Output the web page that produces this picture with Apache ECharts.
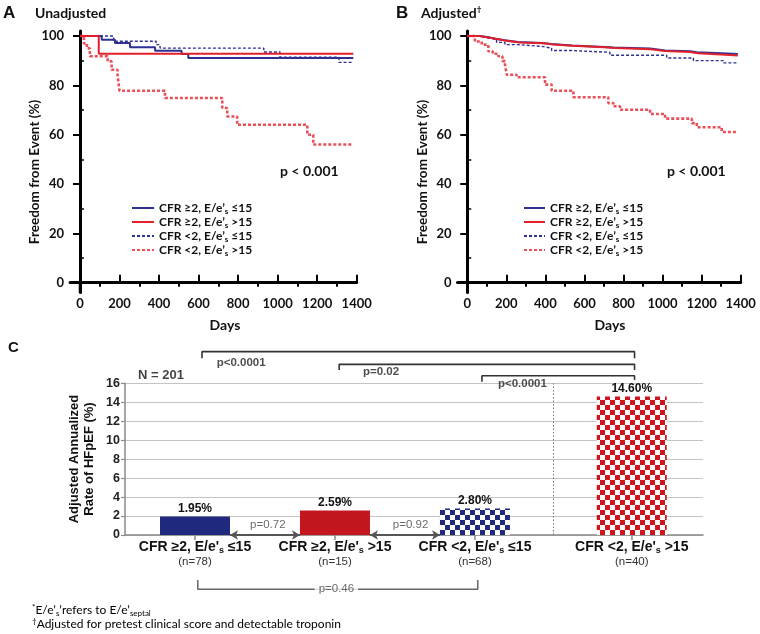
<!DOCTYPE html>
<html><head><meta charset="utf-8">
<script src="https://cdn.jsdelivr.net/npm/echarts@6/dist/echarts.min.js"></script>
<style>html,body{margin:0;padding:0;background:#fff}#c{width:760px;height:634px}</style>
</head><body><div id="c"></div>
<script>
// ---------------- DATA ----------------
const groupCFR = ['≥2', '≥2', '<2', '<2'];
const groupE = ['≤15', '>15', '≤15', '>15'];
const groupN = [78, 15, 68, 40];
const rateValues = [1.95, 2.59, 2.80, 14.60];

const dayTicks = [0, 200, 400, 600, 800, 1000, 1200, 1400];
const dayMinorTicks = [100, 300, 500, 700, 900, 1100, 1300];
const survTicks = [0, 20, 40, 60, 80, 100];
const survMinorTicks = [10, 30, 50, 70, 90];

// Panel A (unadjusted) Kaplan-Meier steps
const unadjG1Days = [0, 110, 177, 253, 380, 514, 548, 1383];
const unadjG1Surv = [100, 98.5, 97.2, 95.4, 94.0, 92.7, 91.1, 91.1];
const unadjG2Days = [0, 95, 1383];
const unadjG2Surv = [100, 92.8, 92.8];
const unadjG3Days = [0, 170, 385, 405, 930, 1012, 1310, 1383];
const unadjG3Surv = [100, 97.9, 96.5, 95.1, 93.5, 91.4, 89.3, 89.3];
const unadjG4Days = [0, 20, 35, 50, 140, 160, 190, 200, 430, 720, 745, 795, 1150, 1180, 1383];
const unadjG4Surv = [100, 97, 95, 91.8, 89.7, 86.3, 84.3, 77.8, 74.9, 70.8, 67.4, 64.0, 60.0, 56.0, 56.0];

// Panel B (adjusted)
const adjG1Days = [0, 65, 108, 150, 193, 260, 381, 432, 535, 705, 748, 936, 1013, 1141, 1175, 1303, 1385];
const adjG1Surv = [100, 99.5, 98.8, 98.3, 97.6, 97.2, 96.8, 96.2, 95.5, 95.3, 94.9, 94.1, 93.8, 93.4, 93.0, 92.7, 92.7];
const adjG2Days = [0, 60, 108, 160, 200, 270, 390, 440, 540, 700, 760, 940, 1010, 1140, 1180, 1300, 1385];
const adjG2Surv = [100, 99.4, 98.7, 98.1, 97.4, 97.1, 96.6, 96.0, 95.4, 95.1, 94.6, 93.9, 93.5, 93.0, 92.5, 92.1, 92.1];
const adjG3Days = [0, 60, 108, 150, 193, 261, 381, 432, 535, 730, 1021, 1158, 1311, 1385];
const adjG3Surv = [100, 99.2, 98.6, 97.4, 96.5, 95.8, 95.1, 94.1, 93.4, 92.2, 91.1, 90.0, 89.1, 89.1];
const adjG4Days = [0, 39, 74, 108, 130, 159, 180, 193, 202, 253, 398, 432, 543, 722, 748, 782, 936, 1013, 1150, 1175, 1303, 1385];
const adjG4Surv = [100, 97.8, 96.5, 93.8, 92.8, 91.8, 89.8, 88.4, 84.3, 83.3, 80.3, 77.8, 75.2, 72.8, 71.5, 70.1, 68.4, 66.5, 64.7, 63.0, 61.1, 61.1];

const pValueTexts = ['p<0.0001', 'p=0.02', 'p<0.0001', 'p=0.72', 'p=0.92', 'p=0.46'];

// ---------------- BUILD ----------------
const LATO = 'Lato';
const ARIAL = '"Liberation Sans", Arial';
const NAVY = '#2E3192', RED = '#E3202A', RED_L = '#E8505A';
const seriesNames = ['g1', 'g2', 'g3', 'g4'];
const lineStyles = [
  {color: NAVY, width: 2, type: 'solid'},
  {color: RED, width: 2, type: 'solid'},
  {color: NAVY, width: 1.4, type: [3, 2]},
  {color: RED_L, width: 2.6, type: [3, 2]}
];
const kmA = [[unadjG1Days, unadjG1Surv], [unadjG2Days, unadjG2Surv], [unadjG3Days, unadjG3Surv], [unadjG4Days, unadjG4Surv]];
const kmB = [[adjG1Days, adjG1Surv], [adjG2Days, adjG2Surv], [adjG3Days, adjG3Surv], [adjG4Days, adjG4Surv]];
const pair = (d, s) => d.map((x, i) => [x, s[i]]);

const catGap = 0.12;
const catPos = rateValues.map((v, i) => i + 0.5 + (i === 3 ? catGap : 0));

function checker(c) {
  const cv = document.createElement('canvas');
  cv.width = 10; cv.height = 10;
  const g = cv.getContext('2d');
  g.fillStyle = '#fff'; g.fillRect(0, 0, 10, 10);
  g.fillStyle = c; g.fillRect(0, 0, 5, 5); g.fillRect(5, 5, 5, 5);
  return {image: cv, repeat: 'repeat'};
}
const barFills = ['#1F2A7E', '#C3161F', checker('#1F2A7E'), checker('#D0141D')];

const legendRich = {
  a: {fontFamily: LATO, fontWeight: 'bold', fontSize: 12, color: '#111', lineHeight: 13.7},
  s: {fontFamily: LATO, fontWeight: 'bold', fontSize: 8, color: '#111', lineHeight: 8, padding: [6, 0, 0, 0]}
};
function legendFmt(name) {
  const i = seriesNames.indexOf(name);
  return `{a|CFR ${groupCFR[i]}, E/e’}{s|s}{a| ${groupE[i]}}`;
}

function kmAxes(gridIndex) {
  const x = [{
    type: 'value', gridIndex, min: -50, max: 1400,
    axisLine: {show: true, lineStyle: {color: '#000', width: 3}},
    axisTick: {show: true, inside: true, length: 8, lineStyle: {color: '#000', width: 2}, customValues: dayTicks},
    axisLabel: {show: true, customValues: dayTicks, formatter: v => String(v), fontFamily: LATO, fontWeight: 'bold', fontSize: 13, color: '#111', margin: 5},
    splitLine: {show: false}
  }, {
    type: 'value', gridIndex, min: -50, max: 1400,
    axisLine: {show: false},
    axisTick: {show: true, inside: true, length: 4, lineStyle: {color: '#000', width: 2}, customValues: dayMinorTicks},
    axisLabel: {show: false}, splitLine: {show: false}
  }];
  const y = [{
    type: 'value', gridIndex, min: -4, max: 102,
    axisLine: {show: true, lineStyle: {color: '#000', width: 3}},
    axisTick: {show: true, length: 7, lineStyle: {color: '#000', width: 2}, customValues: survTicks},
    axisLabel: {show: true, customValues: survTicks, formatter: v => String(v), fontFamily: LATO, fontWeight: 'bold', fontSize: 13, color: '#111', margin: 6},
    splitLine: {show: false}
  }, {
    type: 'value', gridIndex, min: -4, max: 102,
    axisLine: {show: false},
    axisTick: {show: true, length: 4, lineStyle: {color: '#000', width: 1.5}, customValues: survMinorTicks},
    axisLabel: {show: false}, splitLine: {show: false}
  }];
  return {x, y};
}
const axA = kmAxes(0), axB = kmAxes(1);

const xAxes = [axA.x[0], axB.x[0], {
  type: 'value', gridIndex: 2, min: 0, max: 4.129,
  axisLine: {show: true, lineStyle: {color: '#8a8a8a', width: 1.5}},
  axisTick: {show: true, length: 5, lineStyle: {color: '#8a8a8a', width: 1.5}, customValues: catPos},
  axisLabel: {
    show: true, customValues: catPos, margin: 4,
    formatter: v => {
      const i = catPos.findIndex(p => Math.abs(p - v) < 1e-6);
      if (i < 0) return '';
      return `{b|CFR ${groupCFR[i]}, E/e'}{s|s}{b| ${groupE[i]}}\n{n|(n=${groupN[i]})}`;
    },
    rich: {
      b: {fontFamily: ARIAL, fontWeight: 'bold', fontSize: 14, color: '#111', lineHeight: 16},
      s: {fontFamily: ARIAL, fontWeight: 'bold', fontSize: 9, color: '#111', lineHeight: 9, padding: [7, 0, 0, 0]},
      n: {fontFamily: ARIAL, fontSize: 11.5, color: '#333', lineHeight: 14}
    }
  },
  splitLine: {show: false}
}, axA.x[1], axB.x[1]];
// indices: 0 A-major, 1 B-major, 2 C, 3 A-minor, 4 B-minor
const yAxes = [axA.y[0], axB.y[0], {
  type: 'value', gridIndex: 2, min: 0, max: 16, interval: 2,
  axisLine: {show: true, lineStyle: {color: '#8a8a8a', width: 1.5}},
  axisTick: {show: true, length: 4, lineStyle: {color: '#8a8a8a', width: 1.2}},
  axisLabel: {fontFamily: ARIAL, fontWeight: 'bold', fontSize: 12.5, color: '#222', margin: 5},
  splitLine: {show: true, lineStyle: {color: '#c4c4c4', width: 1}}
}, axA.y[1], axB.y[1]];

const series = [];
const drawOrder = [2, 3, 0, 1];
[[kmA, 0], [kmB, 1]].forEach(([km, gi]) => {
  drawOrder.forEach(i => {
    series.push({
      type: 'line', name: seriesNames[i], xAxisIndex: gi, yAxisIndex: gi,
      data: pair(km[i][0], km[i][1]), step: 'end', symbol: 'none', showSymbol: false,
      lineStyle: lineStyles[i], itemStyle: {color: lineStyles[i].color}, z: 3
    });
  });
  // offset-zero bracket on the y axis
  series.push({
    type: 'line', xAxisIndex: gi, yAxisIndex: gi, data: [[-50, 0], [0, 0], [0, -4]],
    symbol: 'none', silent: true, lineStyle: {color: '#000', width: 2.5}, z: 4
  });
});

// Panel C bars
series.push({
  type: 'bar', xAxisIndex: 2, yAxisIndex: 2, barWidth: 70,
  data: rateValues.map((v, i) => ({value: [catPos[i], v], itemStyle: {color: barFills[i]}})),
  label: {show: true, position: 'top', distance: 2, fontFamily: ARIAL, fontWeight: 'bold', fontSize: 12, color: '#111',
    formatter: p => p.value[1].toFixed(2) + '%'},
  markLine: {
    silent: true, animation: false, symbol: ['arrow', 'arrow'], symbolSize: [7, 8],
    label: {show: false},
    lineStyle: {color: '#555', width: 2, type: 'solid'},
    data: [
      [{coord: [catPos[0] + 0.25, 0]}, {coord: [catPos[1] - 0.25, 0]}],
      [{coord: [catPos[1] + 0.25, 0]}, {coord: [catPos[2] - 0.25, 0]}],
      [{coord: [3.06, 0], symbol: 'none'}, {coord: [3.06, 16], symbol: 'none', lineStyle: {color: '#777', width: 1, type: [1.5, 2]}}]
    ]
  }
});
// brackets
const bracketStyle = {color: '#333', width: 1.6};
const bracketsTop = [
  [[catPos[0] + 0.05, 18.64], [catPos[0] + 0.05, 19.34], [catPos[3] + 0.02, 19.34], [catPos[3] + 0.02, 18.64]],
  [[catPos[1] + 0.03, 17.4], [catPos[1] + 0.03, 18.0], [catPos[3] + 0.02, 18.0], [catPos[3] + 0.02, 17.4]],
  [[catPos[2] + 0.05, 16.17], [catPos[2] + 0.05, 16.8], [catPos[3] + 0.02, 16.8], [catPos[3] + 0.02, 16.35]]
];
bracketsTop.forEach(b => series.push({
  type: 'line', xAxisIndex: 2, yAxisIndex: 2, data: b, symbol: 'none', clip: false, silent: true,
  lineStyle: bracketStyle, z: 5
}));
series.push({
  type: 'line', xAxisIndex: 2, yAxisIndex: 2, clip: false, silent: true, symbol: 'none',
  data: [[catPos[0] + 0.02, -4.75], [catPos[0] + 0.02, -5.73], [catPos[2] + 0.02, -5.73], [catPos[2] + 0.02, -4.75]],
  lineStyle: {color: '#666', width: 1.5}, z: 5
});
// annotation labels for panel C
const boldP = {fontFamily: ARIAL, fontWeight: 'bold', fontSize: 11.5, color: '#222'};
const normP = {fontFamily: ARIAL, fontSize: 11.5, color: '#444'};
series.push({
  type: 'scatter', xAxisIndex: 2, yAxisIndex: 2, symbolSize: 0, clip: false, silent: true, z: 6,
  data: [
    {value: [0.655, 18.17], name: pValueTexts[0], label: Object.assign({position: 'right', distance: 0}, boldP)},
    {value: [1.70, 17.16], name: pValueTexts[1], label: Object.assign({position: 'right', distance: 0}, boldP)},
    {value: [2.664, 15.93], name: pValueTexts[2], label: Object.assign({position: 'right', distance: 0}, boldP)},
    {value: [1.02, 1.05], name: pValueTexts[3], label: Object.assign({position: 'inside'}, normP)},
    {value: [2.04, 1.05], name: pValueTexts[4], label: Object.assign({position: 'inside'}, normP)},
    {value: [1.51, -5.73], name: pValueTexts[5], label: Object.assign({position: 'inside', backgroundColor: '#fff', padding: [0, 4]}, normP)},
    {value: [0.093, 16.88], name: 'N = 201', label: {position: 'right', distance: 0, fontFamily: ARIAL, fontWeight: 'bold', fontSize: 13, color: '#111'}}
  ],
  label: {show: true, formatter: p => p.name}
});

const t = (text, x, y, extra) => ({type: 'text', x, y, silent: true,
  style: Object.assign({text, fill: '#111', fontFamily: LATO, fontWeight: 'bold', fontSize: 14, verticalAlign: 'middle'}, extra || {})});

const graphic = [
  t('A', 3, 13, {fontFamily: ARIAL, fontSize: 17}),
  t('Unadjusted', 35, 13),
  t('B', 396, 13, {fontFamily: ARIAL, fontSize: 17}),
  {type: 'text', x: 421, y: 13, silent: true, style: {text: '{a|Adjusted}{d|†}', verticalAlign: 'middle',
    rich: {a: {fontFamily: LATO, fontWeight: 'bold', fontSize: 14, fill: '#111', color: '#111', lineHeight: 16},
           d: {fontFamily: LATO, fontWeight: 'bold', fontSize: 8, color: '#111', lineHeight: 8, padding: [0, 0, 8, 0]}}}},
  t('C', 8, 348, {fontFamily: ARIAL, fontSize: 15}),
  t('Freedom from Event (%)', 35, 172, {align: 'center', fontSize: 13.5}),
  t('Freedom from Event (%)', 423, 172, {align: 'center', fontSize: 13.5}),
  t('Days', 225, 325, {align: 'center'}),
  t('Days', 610, 325, {align: 'center'}),
  t('p < 0.001', 280, 171),
  t('p < 0.001', 667, 171),
  {type: 'text', x: 81.5, y: 459, rotation: Math.PI / 2, silent: true,
    style: {text: 'Adjusted Annualized\nRate of HFpEF (%)', align: 'center', verticalAlign: 'middle', lineHeight: 15,
      fontFamily: ARIAL, fontWeight: 'bold', fontSize: 13, fill: '#111'}},
  {type: 'text', x: 32, y: 610, silent: true, style: {text: '{p|*}{a|E/e’}{b|s}{a|’refers to E/e’}{b|septal}', verticalAlign: 'middle',
    rich: {a: {fontFamily: LATO, fontSize: 12, color: '#111', lineHeight: 13},
           p: {fontFamily: LATO, fontSize: 8, color: '#111', lineHeight: 8, padding: [0, 0, 6, 0]},
           b: {fontFamily: LATO, fontSize: 8, color: '#111', lineHeight: 8, padding: [6, 0, 0, 0]}}}},
  {type: 'text', x: 32, y: 624, silent: true, style: {text: '{p|†}{a|Adjusted for pretest clinical score and detectable troponin}', verticalAlign: 'middle',
    rich: {a: {fontFamily: LATO, fontSize: 12, color: '#111', lineHeight: 13},
           p: {fontFamily: LATO, fontSize: 8, color: '#111', lineHeight: 8, padding: [0, 0, 6, 0]}}}}
];
graphic[5].rotation = Math.PI / 2;
graphic[6].rotation = Math.PI / 2;

const legendBase = {
  orient: 'vertical', itemWidth: 22, itemHeight: 10, itemGap: 0, selectedMode: false,
  itemStyle: {opacity: 0},
  data: ['g1', 'g2', 'g3', 'g4'], formatter: legendFmt, textStyle: {rich: legendRich}
};

const chart = echarts.init(document.getElementById('c'), null, {renderer: 'canvas'});
chart.setOption({
  animation: false,
  backgroundColor: '#fff',
  grid: [
    {left: 70.1, top: 31.07, width: 286.6, height: 261.5},
    {left: 457.5, top: 31.07, width: 283.2, height: 261.5},
    {left: 125, top: 383.3, width: 578, height: 151.7}
  ],
  xAxis: xAxes,
  yAxis: yAxes,
  legend: [
    Object.assign({}, legendBase, {left: 126, top: 196}),
    Object.assign({}, legendBase, {left: 518, top: 196, itemWidth: 21})
  ],
  series,
  graphic
});
</script></body></html>
